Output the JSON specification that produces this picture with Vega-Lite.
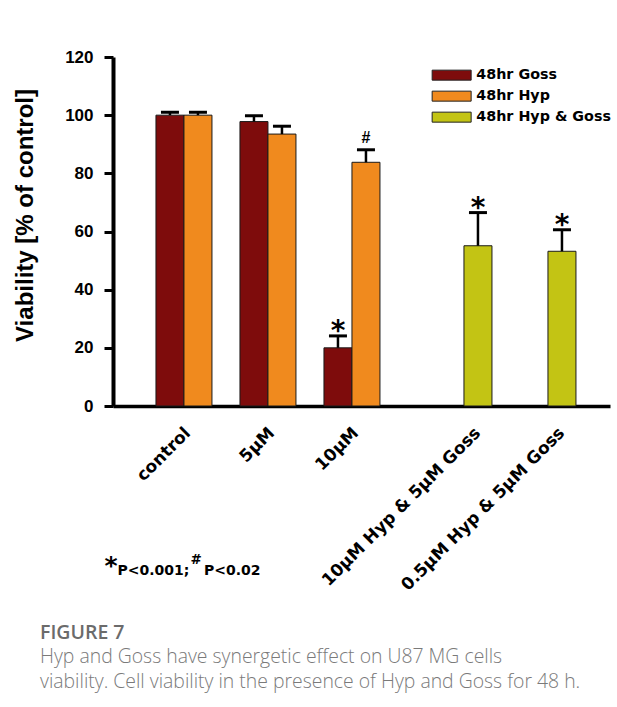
{
  "$schema": "https://vega.github.io/schema/vega-lite/v6.json",
  "width": 497,
  "height": 349,
  "autosize": {"type": "none"},
  "padding": {"left": 113, "top": 57, "right": 7, "bottom": 301},
  "background": "white",
  "config": {"view": {"stroke": null}},
  "title": {
    "text": "FIGURE 7",
    "subtitle": ["Hyp and Goss have synergetic effect on U87 MG cells", "viability. Cell viability in the presence of Hyp and Goss for 48 h."],
    "orient": "bottom",
    "anchor": "start",
    "frame": "group",
    "offset": 31,
    "dx": -73,
    "font": "Open Sans",
    "fontSize": 19.5,
    "fontWeight": 600,
    "color": "#6b6b6b",
    "subtitleFont": "Open Sans",
    "subtitleFontSize": 19.4,
    "subtitleFontWeight": 300,
    "subtitleColor": "#7a7a7a",
    "subtitlePadding": 4,
    "subtitleLineHeight": 25
  },
  "data": {
    "values": [
      {"group": "control", "series": "48hr Goss", "value": 100, "upper": 101, "sig": ""},
      {"group": "control", "series": "48hr Hyp", "value": 100, "upper": 101, "sig": ""},
      {"group": "5µM", "series": "48hr Goss", "value": 97.8, "upper": 99.8, "sig": ""},
      {"group": "5µM", "series": "48hr Hyp", "value": 93.5, "upper": 96.2, "sig": ""},
      {"group": "10µM", "series": "48hr Goss", "value": 20.0, "upper": 24.1, "sig": "*"},
      {"group": "10µM", "series": "48hr Hyp", "value": 83.8, "upper": 88.1, "sig": "#"},
      {"group": "10µM Hyp & 5µM Goss", "series": "48hr Hyp & Goss", "value": 55.1, "upper": 66.5, "sig": "*"},
      {"group": "0.5µM Hyp & 5µM Goss", "series": "48hr Hyp & Goss", "value": 53.2, "upper": 60.6, "sig": "*"}
    ]
  },
  "layer": [
    {
      "mark": {"type": "bar", "stroke": "#1a1a1a", "strokeWidth": 1},
      "encoding": {
        "x": {
          "field": "group", "type": "nominal",
          "sort": ["control", "5µM", "10µM", "10µM Hyp & 5µM Goss", "0.5µM Hyp & 5µM Goss"],
          "scale": {"paddingInner": 0, "paddingOuter": 0.4583, "align": 0.558},
          "axis": {
            "orient": "bottom",
            "title": "P<0.001;\u00a0\u00a0\u00a0P<0.02",
            "titleX": 4, "titleY": 168, "titleAlign": "left", "titleBaseline": "alphabetic", "titleAngle": 0,
            "titleFont": "DejaVu Sans", "titleFontWeight": "bold", "titleFontSize": 14, "titleColor": "black",
            "labelAngle": 315, "labelAlign": "right", "labelBaseline": "middle",
            "labelFont": "DejaVu Sans", "labelFontWeight": "bold", "labelFontSize": 17, "labelColor": "black",
            "labelPadding": 24, "labelLimit": 0, "labelOverlap": false, "labelBound": false, "labelFlush": false,
            "labelOffset": {"condition": {"test": "datum.value === 'control' || datum.value === '5µM' || datum.value === '10µM'", "value": -10}, "value": 28},
            "ticks": false, "domainColor": "black", "domainWidth": 3.5
          }
        },
        "xOffset": {"field": "series", "type": "nominal", "scale": {"domain": ["48hr Goss", "48hr Hyp", "48hr Hyp & Goss"], "paddingInner": 0, "paddingOuter": 0}},
        "y": {
          "field": "value", "type": "quantitative",
          "scale": {"domain": [0, 120], "nice": false},
          "axis": {
            "title": "Viability [% of control]",
            "values": [0, 20, 40, 60, 80, 100, 120],
            "grid": false,
            "domainColor": "black", "domainWidth": 4,
            "tickColor": "black", "tickWidth": 3, "tickSize": 9,
            "labelFont": "Liberation Sans", "labelFontWeight": "bold", "labelFontSize": 17, "labelColor": "black", "labelPadding": 11,
            "titleFont": "Liberation Sans", "titleFontWeight": "bold", "titleFontSize": 24, "titleColor": "black",
            "titleX": -88, "titleY": 158, "titleAngle": 270, "titleAlign": "center", "titleBaseline": "middle"
          }
        },
        "color": {
          "field": "series", "type": "nominal",
          "scale": {"domain": ["48hr Goss", "48hr Hyp", "48hr Hyp & Goss"], "range": ["#7e0c0c", "#f08a1e", "#c3c414"]},
          "legend": {
            "title": null, "orient": "none", "legendX": 331.5, "legendY": 11,
            "symbolType": "M-3.9,-1H3.9V1H-3.9Z", "symbolSize": 100,
            "symbolStrokeColor": "#222", "symbolStrokeWidth": 1, "symbolOpacity": 1,
            "labelFont": "DejaVu Sans", "labelFontWeight": "bold", "labelFontSize": 14.3, "labelColor": "black",
            "labelOffset": 17.5, "rowPadding": 6, "labelLimit": 0
          }
        }
      }
    },
    {
      "mark": {"type": "rule", "strokeWidth": 2.5, "color": "black"},
      "encoding": {
        "x": {
          "field": "group", "type": "nominal",
          "sort": ["control", "5µM", "10µM", "10µM Hyp & 5µM Goss", "0.5µM Hyp & 5µM Goss"],
          "axis": {
            "orient": "bottom",
            "title": "*", "titleX": -9, "titleY": 167, "titleAlign": "left", "titleBaseline": "alphabetic", "titleAngle": 0,
            "titleFont": "DejaVu Sans", "titleFontWeight": "bold", "titleFontSize": 25, "titleColor": "black",
            "labels": false, "ticks": false, "domain": false
          }
        },
        "xOffset": {"field": "series", "type": "nominal"},
        "y": {"field": "value", "type": "quantitative"},
        "y2": {"field": "upper"}
      }
    },
    {
      "mark": {"type": "tick", "orient": "horizontal", "size": 18, "thickness": 3, "color": "black", "opacity": 1},
      "encoding": {
        "x": {"field": "group", "type": "nominal", "sort": ["control", "5µM", "10µM", "10µM Hyp & 5µM Goss", "0.5µM Hyp & 5µM Goss"], "axis": null},
        "xOffset": {"field": "series", "type": "nominal"},
        "y": {"field": "upper", "type": "quantitative"}
      }
    },
    {
      "transform": [{"filter": "datum.sig === '*'"}],
      "mark": {"type": "text", "font": "DejaVu Sans", "fontWeight": "bold", "fontSize": 28, "baseline": "alphabetic", "align": "center", "dy": 4, "color": "black"},
      "encoding": {
        "x": {
          "field": "group", "type": "nominal",
          "sort": ["control", "5µM", "10µM", "10µM Hyp & 5µM Goss", "0.5µM Hyp & 5µM Goss"],
          "axis": {
            "orient": "bottom",
            "title": "#", "titleX": 77, "titleY": 157, "titleAlign": "left", "titleBaseline": "alphabetic", "titleAngle": 0,
            "titleFont": "DejaVu Sans", "titleFontWeight": "bold", "titleFontSize": 13.5, "titleColor": "black",
            "labels": false, "ticks": false, "domain": false
          }
        },
        "xOffset": {"field": "series", "type": "nominal"},
        "y": {"field": "upper", "type": "quantitative"},
        "text": {"field": "sig"}
      }
    },
    {
      "transform": [{"filter": "datum.sig === '#'"}],
      "mark": {"type": "text", "font": "Liberation Sans", "fontWeight": "bold", "fontSize": 16, "baseline": "alphabetic", "align": "center", "dy": -7, "color": "black"},
      "encoding": {
        "x": {"field": "group", "type": "nominal", "sort": ["control", "5µM", "10µM", "10µM Hyp & 5µM Goss", "0.5µM Hyp & 5µM Goss"], "axis": null},
        "xOffset": {"field": "series", "type": "nominal"},
        "y": {"field": "upper", "type": "quantitative"},
        "text": {"field": "sig"}
      }
    }
  ],
  "resolve": {"axis": {"x": "independent"}}
}
